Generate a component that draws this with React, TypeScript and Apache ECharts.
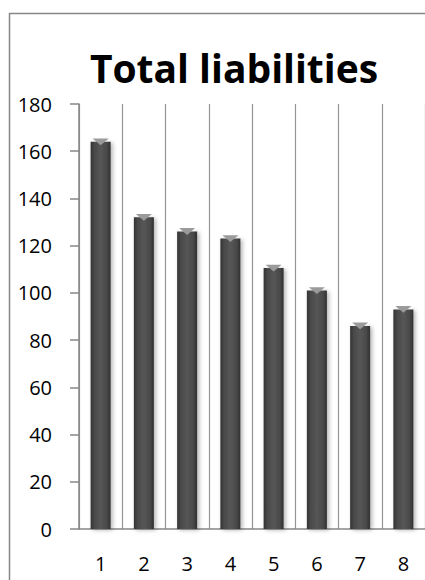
import React, { useEffect, useRef } from "react";
import * as echarts from "echarts";

const categories = ["1", "2", "3", "4", "5", "6", "7", "8"];
const values = [164, 132, 126, 123, 110.5, 101, 86, 93];
const yTicks = { min: 0, max: 180, interval: 20 };
const titleText = "Total liabilities";

export default function App() {
  const ref = useRef<HTMLDivElement>(null);
  useEffect(() => {
    const chart = echarts.init(ref.current!, null, { renderer: "svg" });
    const font = "'Open Sans', 'Noto Sans', sans-serif";
    chart.setOption({
      animation: false,
      backgroundColor: "#ffffff",
      title: {
        text: titleText,
        left: 229,
        top: 43,
        textAlign: "center",
        textStyle: { fontFamily: font, fontWeight: "bold", fontSize: 39, color: "#000" },
      },
      graphic: [
        {
          type: "rect",
          shape: { x: 9.5, y: 13.5, width: 600, height: 700 },
          style: { fill: "none", stroke: "#878787", lineWidth: 1.5 },
          silent: true,
          z: -10,
        },
      ],
      grid: { left: 79, top: 104, width: 352, height: 425, containLabel: false },
      xAxis: {
        type: "category",
        data: categories,
        axisLine: { lineStyle: { color: "#878787", width: 1.5 } },
        axisTick: { show: false },
        splitLine: { show: true, interval: 0, lineStyle: { color: "#959595", width: 1.2 } },
        axisLabel: { fontFamily: font, fontSize: 20, color: "#000", margin: 24 },
      },
      yAxis: {
        type: "value",
        min: yTicks.min,
        max: yTicks.max,
        interval: yTicks.interval,
        axisLine: { show: true, lineStyle: { color: "#878787", width: 1.5 } },
        axisTick: { show: true, length: 9, lineStyle: { color: "#878787", width: 1.5 } },
        splitLine: { show: false },
        axisLabel: { fontFamily: font, fontSize: 20, color: "#000", margin: 27 },
      },
      series: [
        {
          type: "bar",
          data: values,
          barWidth: 20,
          itemStyle: {
            color: new echarts.graphic.LinearGradient(0, 0, 1, 0, [
              { offset: 0, color: "#333333" },
              { offset: 0.2, color: "#4a4a4a" },
              { offset: 0.5, color: "#565656" },
              { offset: 0.8, color: "#4a4a4a" },
              { offset: 1, color: "#303030" },
            ]),
            shadowColor: "rgba(0,0,0,0.3)",
            shadowBlur: 4,
            shadowOffsetX: 2,
            shadowOffsetY: 1,
          },
        },
        {
          type: "pictorialBar",
          data: values,
          symbol: "triangle",
          symbolRotate: 180,
          symbolPosition: "end",
          symbolSize: [16, 7],
          symbolOffset: [0, "-50%"],
          itemStyle: { color: "#9a9a9a" },
          z: 5,
        },
      ],
    });
    return () => chart.dispose();
  }, []);
  return (
    <div
      ref={ref}
      style={{ position: "absolute", left: 0, top: 0, width: 425, height: 580 }}
    />
  );
}
